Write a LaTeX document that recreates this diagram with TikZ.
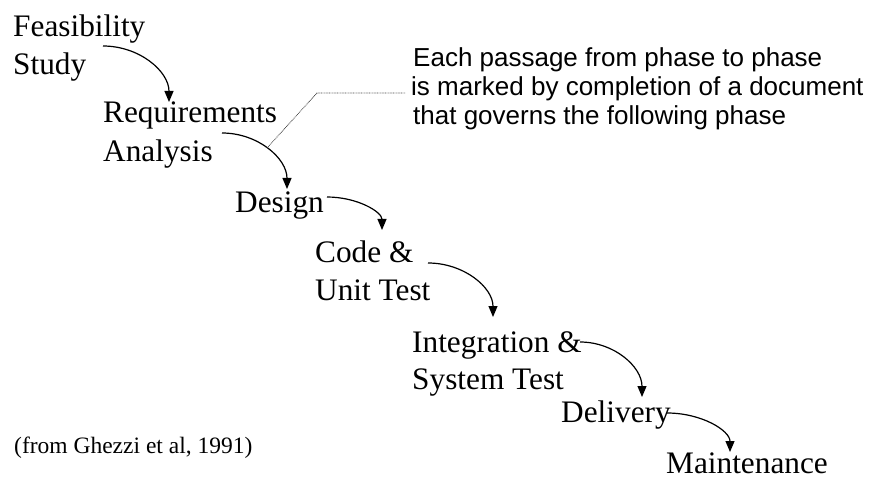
\documentclass[tikz,border=0pt]{standalone}
\usepackage{fontspec}
\setmainfont{Liberation Serif}
\newfontfamily\notefont{Liberation Sans}
\usetikzlibrary{arrows.meta,calc}
\begin{document}
\begin{tikzpicture}[x=1pt,y=-1pt,
  phase/.style={anchor=base west,inner sep=0pt,font=\fontsize{31.3}{37}\selectfont},
  note/.style={anchor=base west,inner sep=0pt,font=\notefont\fontsize{26}{30}\selectfont},
  cite/.style={anchor=base west,inner sep=0pt,font=\fontsize{23.5}{28}\selectfont},
  flow/.style={line width=1.2pt,-{Triangle[length=11pt,width=9pt]}},
  leader/.style={line width=0.8pt,black!75,dash pattern=on 0.8pt off 0.8pt}]
\useasboundingbox (0,0) rectangle (881,481);
% phases
\node[phase] (feas1) at (13,37) {Feasibility};
\node[phase] (feas2) at (13,75) {Study};
\node[phase] (req1) at (103,123) {Requirements};
\node[phase] (req2) at (103,162) {Analysis};
\node[phase] (des) at (235,213) {Design};
\node[phase] (code1) at (315,262) {Code \&};
\node[phase] (code2) at (315,300) {Unit Test};
\node[phase] (int1) at (412,352) {Integration \&};
\node[phase] (int2) at (412,389) {System Test};
\node[phase] (del) at (561,422) {Delivery};
\node[phase] (maint) at (666,473) {Maintenance};
\node[cite] (cite) at (14,453) {(from Ghezzi et al, 1991)};
% note
\node[note] (n1) at (413,67) {Each passage from phase to phase};
\node[note] (n2) at (411,96) {is marked by completion of a document};
\node[note] (n3) at (413,125) {that governs the following phase};
% arrow end points
\coordinate (s1) at (103,46);  \coordinate (t1) at (169,102);
\coordinate (s2) at (222,133); \coordinate (t2) at (287,189);
\coordinate (s3) at (327,197); \coordinate (t3) at (382,230);
\coordinate (s4) at (428,263); \coordinate (t4) at (493,317);
\coordinate (s5) at (580,342); \coordinate (t5) at (642,397);
\coordinate (s6) at (667,413); \coordinate (t6) at (730,452);
\foreach \i in {1,...,6}{
  \draw[flow] (s\i) .. controls ($(s\i)!.55!(s\i -| t\i)$) and ($(t\i)!.55!(s\i -| t\i)$) .. (t\i);
}
% leader line
\coordinate (d1) at (267,148);
\coordinate (d2) at (317,93);
\coordinate (d3) at (405,93);
\draw[leader] (d1) -- (d2) -- (d3);
\end{tikzpicture}
\end{document}
